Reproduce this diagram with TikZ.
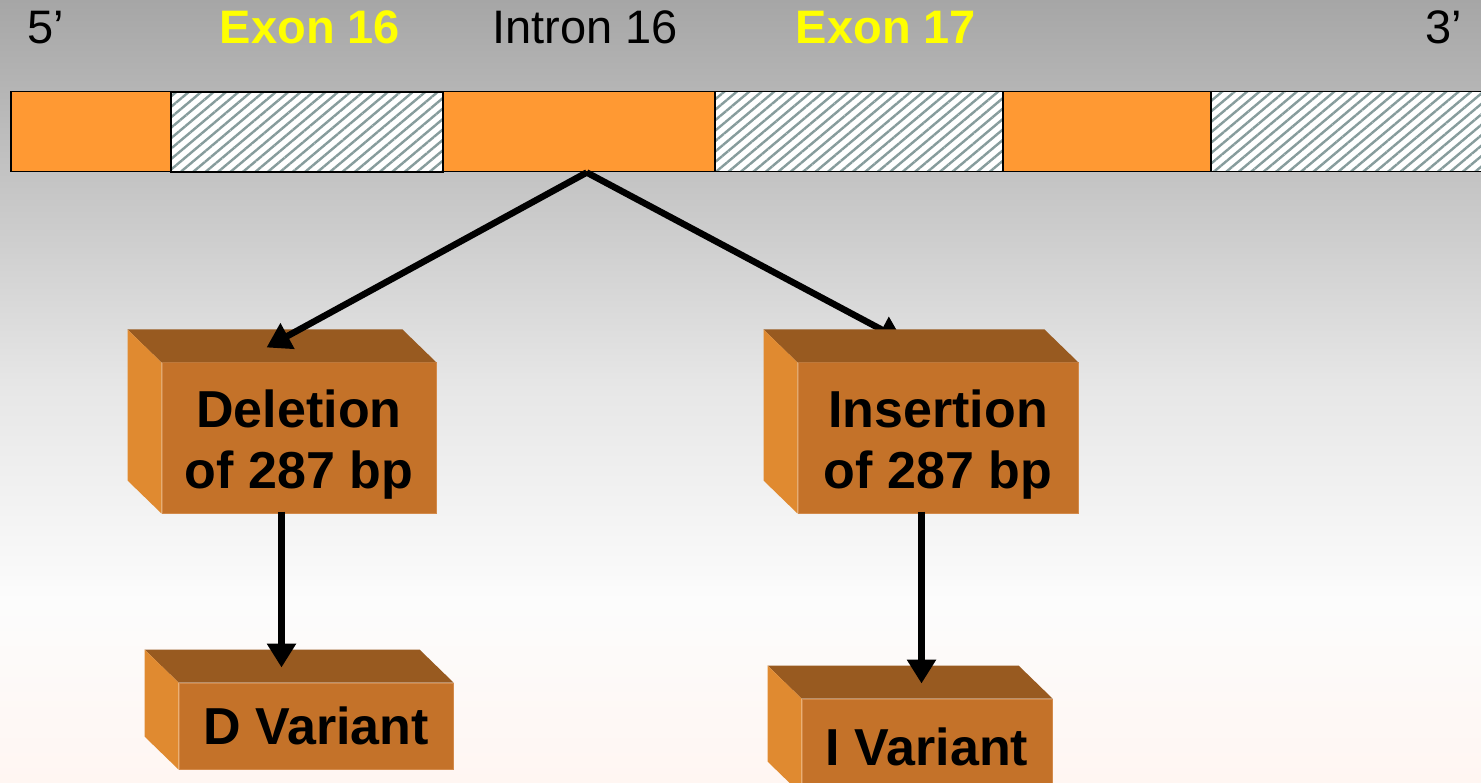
\documentclass[tikz,border=0pt]{standalone}
\usepackage{fontspec}
\setmainfont{Liberation Sans}
\usetikzlibrary{arrows.meta,patterns.meta,calc}
\definecolor{barorange}{HTML}{FF9933}
\definecolor{hatchc}{HTML}{869C9C}
\definecolor{frontc}{HTML}{C47229}
\definecolor{topc}{HTML}{985A20}
\definecolor{sidec}{HTML}{E08A30}
\definecolor{edgec}{HTML}{D38A4A}
\definecolor{exonyel}{HTML}{FFFF00}
\definecolor{bgA}{HTML}{A6A6A6}
\definecolor{bgB}{HTML}{E6E6E6}
\definecolor{bgC}{HTML}{FCFCFC}
\definecolor{bgD}{HTML}{FFF6F2}
\tikzset{
  seg/.style={draw=black, line width=1.5pt, minimum height=80pt, inner sep=0pt, anchor=north west},
  orangeseg/.style={seg, fill=barorange},
  hatchseg/.style={seg, preaction={fill=white}, pattern={Lines[angle=40,distance=8pt,line width=2.4pt]}, pattern color=hatchc},
  toplabel/.style={inner sep=0pt, font=\fontsize{47}{56}\selectfont},
  front/.style={draw=edgec, line width=1pt, fill=frontc, inner sep=0pt, align=center, font=\bfseries\fontsize{52}{62}\selectfont},
  twoline/.style={text height=108pt, text depth=6pt},
  conn/.style={line width=6.5pt, -{Triangle[length=24pt,width=28pt]}},
}
\begin{document}
\begin{tikzpicture}[x=1pt,y=-1pt]
\useasboundingbox (0,0) rectangle (1481,783);
\clip (0,0) rectangle (1481,783);
% background
\shade[top color=bgA, bottom color=bgB] (0,0) rectangle (1481,381);
\shade[top color=bgB, bottom color=bgC] (0,380) rectangle (1481,601);
\shade[top color=bgC, bottom color=bgD] (0,600) rectangle (1481,783);
% top labels
\node[toplabel, anchor=base west] (five) at (27,44) {5’};
\node[toplabel, anchor=base, text=exonyel, font=\bfseries\fontsize{47}{56}\selectfont] (ex16) at (310,44) {Exon 16};
\node[toplabel, anchor=base] (in16) at (585,44) {Intron 16};
\node[toplabel, anchor=base, text=exonyel, font=\bfseries\fontsize{47}{56}\selectfont] (ex17) at (886,44) {Exon 17};
\node[toplabel, anchor=base west] (three) at (1425,44) {3’};
% bar
\node[orangeseg, minimum width=160pt] (s1) at (10,91) {};
\node[hatchseg, minimum width=272pt] (s2) at (170,91) {};
\node[orangeseg, minimum width=272pt] (intron) at (442,91) {};
\node[hatchseg, minimum width=288pt] (s4) at (714,91) {};
\node[orangeseg, minimum width=208pt] (s5) at (1002,91) {};
\node[hatchseg, minimum width=290pt] (s6) at (1210,91) {};
\coordinate (split) at ($(intron.south)+(8,0)$);
% insertion branch (arrow passes behind box)
\coordinate (insin) at (903,341);
\draw[conn] (split) -- (insin);
% boxes
\node[front, twoline, minimum width=274pt, minimum height=150pt] (del) at (299,438) {Deletion\\of 287 bp};
\node[front, twoline, minimum width=280pt, minimum height=150pt] (ins) at (938,438) {Insertion\\of 287 bp};
\node[front, minimum width=274pt, minimum height=86pt] (dvar) at (316,726) {D Variant};
\node[front, minimum width=250pt, minimum height=95pt] (ivar) at (927,746.5) {I Variant};
\foreach \b in {del,ins,dvar,ivar}{
  \fill[topc] (\b.north west) -- ++(-34,-33) -- ($(\b.north east)+(-34,-33)$) -- (\b.north east) -- cycle;
  \fill[sidec] (\b.north west) -- ++(-34,-33) -- ($(\b.south west)+(-34,-33)$) -- (\b.south west) -- cycle;
}
% connectors
\draw[conn] (split) -- ($(del.north west)+(105,-15)$);
\draw[conn] ($(del.south west)+(120,-2)$) -- ($(dvar.north west)+(103,-15)$);
\draw[conn] ($(ins.south west)+(124,-2)$) -- ($(ivar.north west)+(120,-15)$);
\end{tikzpicture}
\end{document}
